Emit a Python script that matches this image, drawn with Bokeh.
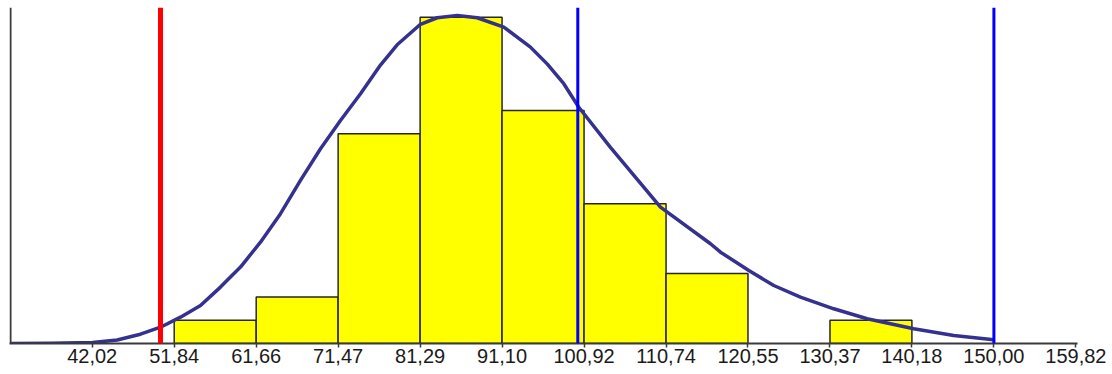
from bokeh.plotting import figure
from bokeh.models import Range1d, Span, FixedTicker, ColumnDataSource
from bokeh.embed import file_html
from bokeh.resources import INLINE

# ---- data ----
tick_values = [42.02, 51.84, 61.66, 71.47, 81.29, 91.10, 100.92, 110.74, 120.55, 130.37, 140.18, 150.00, 159.82]
tick_labels = ["42,02", "51,84", "61,66", "71,47", "81,29", "91,10", "100,92", "110,74", "120,55", "130,37", "140,18", "150,00", "159,82"]

bin_left = [51.84, 61.66, 71.47, 81.29, 91.10, 100.92, 110.74, 130.37]
bin_right = [61.66, 71.47, 81.29, 91.10, 100.92, 110.74, 120.55, 140.18]
counts = [1, 2, 9, 14, 10, 6, 3, 1]

curve_x = [32.24, 37.03, 42.06, 45.01, 47.80, 50.20, 52.59, 54.99, 57.38, 59.78, 62.17, 64.57,
           66.96, 69.36, 71.75, 74.15, 76.54, 78.54, 81.33, 83.33, 85.73, 88.12, 91.31, 94.50,
           96.50, 98.49, 100.29, 104.08, 110.07, 116.06, 117.26, 120.65, 123.64, 126.83, 130.82,
           134.82, 140.40, 145.19, 149.98]
curve_y = [0.00, 0.01, 0.04, 0.15, 0.40, 0.70, 1.13, 1.63, 2.42, 3.28, 4.35, 5.57,
           7.00, 8.36, 9.57, 10.72, 11.95, 12.82, 13.70, 13.98, 14.08, 13.98, 13.58, 12.72,
           12.00, 11.15, 10.14, 8.42, 5.85, 4.28, 3.92, 3.13, 2.49, 1.99, 1.49,
           1.06, 0.63, 0.34, 0.16]

lower_limit = [50.20]
upper_limits = [100.17, 150.00]
left_edge = 32.24

# ---- figure ----
p = figure(width=1112, height=374, output_backend="svg", toolbar_location=None,
           x_range=Range1d(32.117, 160.01), y_range=Range1d(0, 14.42),
           min_border_left=9, min_border_right=35, min_border_top=7, min_border_bottom=31)
p.outline_line_color = None
p.grid.visible = False
p.yaxis.visible = False
p.background_fill_color = "white"
p.border_fill_color = "white"

ax = p.xaxis[0]
ax.ticker = FixedTicker(ticks=tick_values)
ax.major_label_overrides = {v: s for v, s in zip(tick_values, tick_labels)}
ax.axis_line_color = "#3a3a3a"
ax.axis_line_width = 2
ax.major_tick_line_color = "#3a3a3a"
ax.major_tick_line_width = 1.5
ax.major_tick_in = 0
ax.major_tick_out = 4
ax.minor_tick_line_color = None
ax.major_label_text_font = "Liberation Sans"
ax.major_label_text_font_size = "20px"
ax.major_label_text_color = "#1a1a1a"
ax.major_label_standoff = 1

src = ColumnDataSource(dict(left=bin_left, right=bin_right, top=counts))
p.quad(left="left", right="right", top="top", bottom=0, source=src,
       fill_color="#FFFF00", line_color="#262626", line_width=1.5)

p.line(curve_x, curve_y, line_color="#35318f", line_width=3.5, line_join="round")

p.add_layout(Span(location=left_edge, dimension="height", line_color="#3a3a3a", line_width=2))
for v in lower_limit:
    p.add_layout(Span(location=v, dimension="height", line_color="#FF0000", line_width=5))
for v in upper_limits:
    p.add_layout(Span(location=v, dimension="height", line_color="#0000FF", line_width=3))

open("out.html", "w").write(file_html(p, INLINE))
